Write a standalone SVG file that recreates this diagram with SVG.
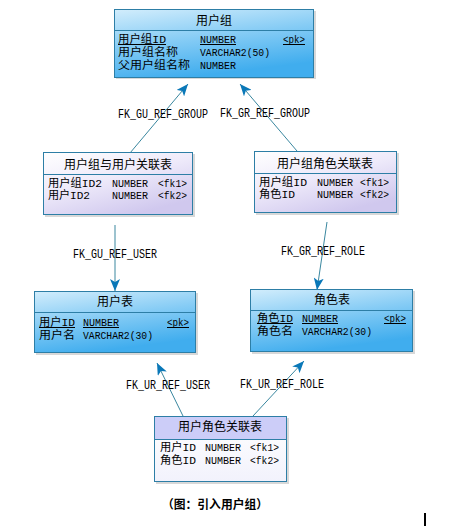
<svg xmlns="http://www.w3.org/2000/svg" width="450" height="527" viewBox="0 0 450 527">
<defs>
<linearGradient id="blue" x1="0" y1="0" x2="0.35" y2="1">
<stop offset="0" stop-color="#d2edfc"/>
<stop offset="0.5" stop-color="#86ccf5"/>
<stop offset="1" stop-color="#40adee"/>
</linearGradient>
<linearGradient id="lav" x1="0" y1="0" x2="0.6" y2="1">
<stop offset="0" stop-color="#ffffff"/>
<stop offset="0.5" stop-color="#eeeafa"/>
<stop offset="1" stop-color="#d0c8ee"/>
</linearGradient>
<linearGradient id="wht" x1="0" y1="0" x2="0" y2="1">
<stop offset="0" stop-color="#ffffff"/>
<stop offset="1" stop-color="#f2f2fc"/>
</linearGradient>
<marker id="arr" viewBox="0 0 12 10" refX="12" refY="5" markerWidth="12" markerHeight="10" markerUnits="userSpaceOnUse" orient="auto">
<path d="M0,0 L12,5 L0,10 L3,5 Z" fill="#0a78b8"/>
</marker>
</defs>
<style>
.box{stroke:#2d7ea6;stroke-width:1}
.sh{fill:#d8d8d8}
.sep{stroke:#2d7ea6;stroke-width:1}
text{font-family:"Liberation Mono","Noto Sans CJK SC",monospace;font-size:11px;fill:#000}
.t{text-anchor:middle;font-family:"Noto Sans CJK SC",sans-serif;font-size:12px}
.ul{stroke:#000;stroke-width:1}
.c{fill:none;stroke:#3a879f;stroke-width:1;marker-end:url(#arr)}
.lbl{text-anchor:middle;font-size:12px}
.cap{font-family:"Noto Sans CJK SC",sans-serif;font-weight:bold;font-size:12px}
</style>
<rect width="450" height="527" fill="#ffffff"/>

<g id="connectors">
<line class="c" x1="130" y1="153" x2="188" y2="84"/>
<line class="c" x1="297" y1="151" x2="240" y2="84"/>
<line class="c" x1="115" y1="225" x2="115" y2="291"/>
<line class="c" x1="327" y1="222" x2="317" y2="290"/>
<line class="c" x1="183" y1="416" x2="157" y2="363"/>
<line class="c" x1="253" y1="416" x2="304" y2="361"/>
<text class="lbl" x="163" y="118" textLength="90" lengthAdjust="spacingAndGlyphs">FK_GU_REF_GROUP</text>
<text class="lbl" x="265" y="117" textLength="90" lengthAdjust="spacingAndGlyphs">FK_GR_REF_GROUP</text>
<text class="lbl" x="115" y="258" textLength="84" lengthAdjust="spacingAndGlyphs">FK_GU_REF_USER</text>
<text class="lbl" x="323" y="255" textLength="84" lengthAdjust="spacingAndGlyphs">FK_GR_REF_ROLE</text>
<text class="lbl" x="168" y="389" textLength="84" lengthAdjust="spacingAndGlyphs">FK_UR_REF_USER</text>
<text class="lbl" x="282" y="388" textLength="84" lengthAdjust="spacingAndGlyphs">FK_UR_REF_ROLE</text>
</g>

<g id="usergroup">
<rect class="sh" x="116" y="11" width="200" height="68"/>
<rect class="box" x="114.5" y="9.5" width="199" height="68" fill="url(#blue)"/>
<line class="sep" x1="114.5" y1="30.5" x2="313.5" y2="30.5"/>
<text class="t" x="214" y="25" textLength="36" lengthAdjust="spacingAndGlyphs">用户组</text>
<text x="118" y="43" textLength="48" lengthAdjust="spacingAndGlyphs">用户组ID</text>
<text x="200" y="43" textLength="36" lengthAdjust="spacingAndGlyphs">NUMBER</text>
<text x="283" y="43" textLength="22" lengthAdjust="spacingAndGlyphs">&lt;pk&gt;</text>
<line class="ul" x1="118" y1="44.5" x2="166" y2="44.5"/>
<line class="ul" x1="200" y1="44.5" x2="236" y2="44.5"/>
<line class="ul" x1="283" y1="44.5" x2="305" y2="44.5"/>
<text x="118" y="56" textLength="60" lengthAdjust="spacingAndGlyphs">用户组名称</text>
<text x="200" y="56" textLength="70" lengthAdjust="spacingAndGlyphs">VARCHAR2(50)</text>
<text x="118" y="69" textLength="72" lengthAdjust="spacingAndGlyphs">父用户组名称</text>
<text x="200" y="69" textLength="36" lengthAdjust="spacingAndGlyphs">NUMBER</text>
</g>

<g id="group_user">
<rect class="sh" x="45" y="154" width="150" height="63"/>
<rect class="box" x="43.5" y="152.5" width="149" height="62" fill="url(#lav)"/>
<line class="sep" x1="43.5" y1="174.5" x2="192.5" y2="174.5"/>
<text class="t" x="118" y="169" textLength="108" lengthAdjust="spacingAndGlyphs">用户组与用户关联表</text>
<text x="48" y="187" textLength="54" lengthAdjust="spacingAndGlyphs">用户组ID2</text>
<text x="112" y="187" textLength="36" lengthAdjust="spacingAndGlyphs">NUMBER</text>
<text x="158" y="187" textLength="29" lengthAdjust="spacingAndGlyphs">&lt;fk1&gt;</text>
<text x="48" y="199" textLength="42" lengthAdjust="spacingAndGlyphs">用户ID2</text>
<text x="112" y="199" textLength="36" lengthAdjust="spacingAndGlyphs">NUMBER</text>
<text x="158" y="199" textLength="29" lengthAdjust="spacingAndGlyphs">&lt;fk2&gt;</text>
</g>

<g id="group_role">
<rect class="sh" x="256" y="153" width="143" height="62"/>
<rect class="box" x="254.5" y="151.5" width="142" height="61" fill="url(#lav)"/>
<line class="sep" x1="254.5" y1="173.5" x2="396.5" y2="173.5"/>
<text class="t" x="325" y="168" textLength="96" lengthAdjust="spacingAndGlyphs">用户组角色关联表</text>
<text x="259" y="186" textLength="48" lengthAdjust="spacingAndGlyphs">用户组ID</text>
<text x="317" y="186" textLength="36" lengthAdjust="spacingAndGlyphs">NUMBER</text>
<text x="360" y="186" textLength="29" lengthAdjust="spacingAndGlyphs">&lt;fk1&gt;</text>
<text x="259" y="198" textLength="36" lengthAdjust="spacingAndGlyphs">角色ID</text>
<text x="317" y="198" textLength="36" lengthAdjust="spacingAndGlyphs">NUMBER</text>
<text x="360" y="198" textLength="29" lengthAdjust="spacingAndGlyphs">&lt;fk2&gt;</text>
</g>

<g id="user">
<rect class="sh" x="36" y="293" width="162" height="62"/>
<rect class="box" x="34.5" y="291.5" width="161" height="61" fill="url(#blue)"/>
<line class="sep" x1="34.5" y1="312.5" x2="195.5" y2="312.5"/>
<text class="t" x="115" y="306" textLength="36" lengthAdjust="spacingAndGlyphs">用户表</text>
<text x="39" y="326" textLength="36" lengthAdjust="spacingAndGlyphs">用户ID</text>
<text x="83" y="326" textLength="36" lengthAdjust="spacingAndGlyphs">NUMBER</text>
<text x="167" y="326" textLength="22" lengthAdjust="spacingAndGlyphs">&lt;pk&gt;</text>
<line class="ul" x1="39" y1="327.5" x2="75" y2="327.5"/>
<line class="ul" x1="83" y1="327.5" x2="119" y2="327.5"/>
<line class="ul" x1="167" y1="327.5" x2="189" y2="327.5"/>
<text x="39" y="339" textLength="36" lengthAdjust="spacingAndGlyphs">用户名</text>
<text x="83" y="339" textLength="70" lengthAdjust="spacingAndGlyphs">VARCHAR2(30)</text>
</g>

<g id="role">
<rect class="sh" x="252" y="291" width="163" height="63"/>
<rect class="box" x="250.5" y="289.5" width="162" height="62" fill="url(#blue)"/>
<line class="sep" x1="250.5" y1="310.5" x2="412.5" y2="310.5"/>
<text class="t" x="332" y="304" textLength="36" lengthAdjust="spacingAndGlyphs">角色表</text>
<text x="257" y="322" textLength="36" lengthAdjust="spacingAndGlyphs">角色ID</text>
<text x="302" y="322" textLength="36" lengthAdjust="spacingAndGlyphs">NUMBER</text>
<text x="384" y="322" textLength="22" lengthAdjust="spacingAndGlyphs">&lt;pk&gt;</text>
<line class="ul" x1="257" y1="323.5" x2="293" y2="323.5"/>
<line class="ul" x1="302" y1="323.5" x2="338" y2="323.5"/>
<line class="ul" x1="384" y1="323.5" x2="406" y2="323.5"/>
<text x="257" y="335" textLength="36" lengthAdjust="spacingAndGlyphs">角色名</text>
<text x="302" y="335" textLength="70" lengthAdjust="spacingAndGlyphs">VARCHAR2(30)</text>
</g>

<g id="user_role">
<rect class="sh" x="156" y="418" width="133" height="66"/>
<rect class="box" x="154.5" y="416.5" width="132" height="65" fill="url(#wht)"/>
<rect x="155" y="417" width="131" height="22" fill="#cccdf8"/>
<line class="sep" x1="154.5" y1="439.5" x2="286.5" y2="439.5"/>
<text class="t" x="220" y="431" textLength="84" lengthAdjust="spacingAndGlyphs">用户角色关联表</text>
<text x="160" y="451" textLength="36" lengthAdjust="spacingAndGlyphs">用户ID</text>
<text x="205" y="451" textLength="36" lengthAdjust="spacingAndGlyphs">NUMBER</text>
<text x="250" y="451" textLength="29" lengthAdjust="spacingAndGlyphs">&lt;fk1&gt;</text>
<text x="160" y="464" textLength="36" lengthAdjust="spacingAndGlyphs">角色ID</text>
<text x="205" y="464" textLength="36" lengthAdjust="spacingAndGlyphs">NUMBER</text>
<text x="250" y="464" textLength="29" lengthAdjust="spacingAndGlyphs">&lt;fk2&gt;</text>
</g>

<text class="cap" x="162" y="509" textLength="106" lengthAdjust="spacingAndGlyphs">（图：引入用户组）</text>
<rect x="424" y="513" width="2" height="13" fill="#000"/>
</svg>
